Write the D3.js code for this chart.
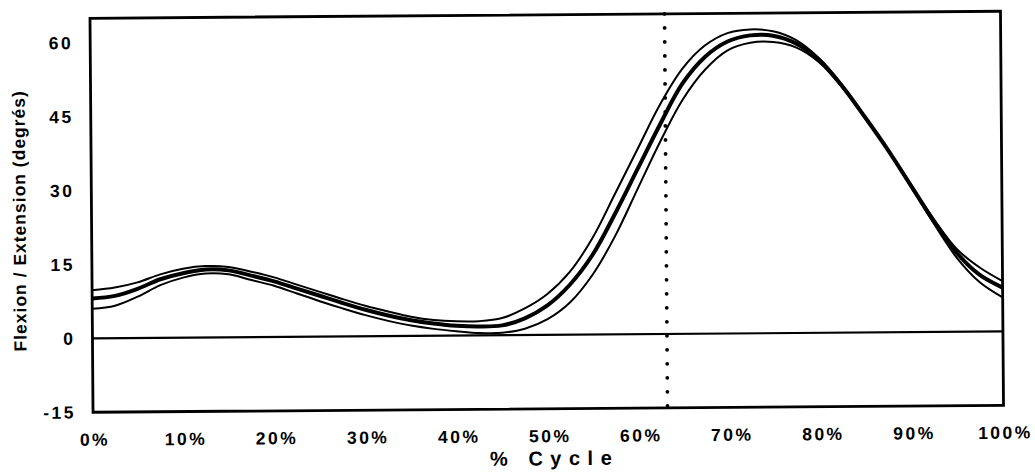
<!DOCTYPE html>
<html><head><meta charset="utf-8">
<script src="https://cdn.jsdelivr.net/npm/d3@7"></script>
<style>body{margin:0;background:#fff} svg{display:block}</style>
</head><body><svg id="c" width="1035" height="475"></svg>
<script>
// ---- data ----
const cyclePct = [0,2.5,5,7.5,10,12.5,15,17.5,20,22.5,25,27.5,30,32.5,35,37.5,40,42.5,45,47.5,50,52.5,55,57.5,60,62.5,65,67.5,70,72.5,75,77.5,80,82.5,85,87.5,90,92.5,95,97.5,100];
const meanFlex  = [8.1,8.6,10.0,11.9,13.1,13.8,13.6,12.5,11.3,9.8,8.3,6.8,5.4,4.2,3.2,2.5,2.0,1.8,2.0,3.4,6.0,10.2,16.2,24.5,33.5,42.5,50.8,56.2,59.3,60.5,60.4,58.8,55.5,50.2,43.8,37.1,29.8,22.5,16.0,11.5,8.9];
const upperFlex = [9.8,10.3,11.3,12.9,14.0,14.5,14.3,13.3,12.1,10.6,9.1,7.6,6.2,5.0,3.9,3.2,2.9,2.9,3.5,5.4,8.3,12.8,19.6,28.5,37.5,46.5,53.8,58.5,61.0,61.7,61.3,59.5,55.8,50.4,43.9,37.2,30.0,22.9,16.8,13.0,10.2];
const lowerFlex = [6.0,6.6,8.4,10.7,12.2,13.0,12.8,11.6,10.4,8.8,7.2,5.7,4.3,3.1,2.1,1.4,0.9,0.5,0.5,1.3,3.2,6.6,12.2,20.0,29.5,39.0,47.5,53.6,57.5,59.0,59.1,58.0,55.0,49.9,43.6,37.0,29.6,22.0,15.0,10.0,6.9];
const yTicks = [-15,0,15,30,45,60];
const xTicks = [0,10,20,30,40,50,60,70,80,90,100];
const toeOffPct = 63.1;
const yDomain = [-15,65];
const yTitle = "Flexion / Extension (degrés)";
const xTitle = "% Cycle";

// ---- layout ----
const W = 1035, H = 475;
const m = {left: 91.5, right: 1002, top: 15, bottom: 409};
const x = d3.scaleLinear().domain([0,100]).range([m.left, m.right]);
const y = d3.scaleLinear().domain(yDomain).range([m.bottom, m.top]);
const font = "'Liberation Sans', Arial, Helvetica, sans-serif";
const ls = 2.5; // letter spacing of tick labels

const svg = d3.select('#c');
svg.append('rect').attr('width', W).attr('height', H).attr('fill', '#fff');
// the scanned original is slightly tilted
const g = svg.append('g').attr('transform', `rotate(-0.44 ${W/2} 212)`);

// axes (labels only)
const ya = g.append('g').attr('transform', `translate(${m.left},0)`)
  .call(d3.axisLeft(y).tickValues(yTicks).tickSize(0).tickPadding(19.5 - ls).tickFormat(d => String(d)));
const xa = g.append('g').attr('transform', `translate(0,${m.bottom})`)
  .call(d3.axisBottom(x).tickValues(xTicks).tickSize(0).tickPadding(21).tickFormat(d => d + '%'));
[ya, xa].forEach(a => {
  a.select('.domain').remove();
  a.selectAll('text').attr('font-family', font).attr('font-weight', 'bold')
    .attr('font-size', 17.5).attr('letter-spacing', ls + 'px').attr('fill', '#000');
});
xa.selectAll('text').attr('dx', ls / 2);

// zero line
g.append('line').attr('x1', x(0)).attr('x2', x(100)).attr('y1', y(0)).attr('y2', y(0))
  .attr('stroke', '#000').attr('stroke-width', 2.2);

// toe-off dotted line
g.append('line').attr('x1', x(toeOffPct)).attr('x2', x(toeOffPct))
  .attr('y1', y(yDomain[1])).attr('y2', y(yDomain[0]))
  .attr('stroke', '#000').attr('stroke-width', 3.8)
  .attr('stroke-dasharray', '0,14').attr('stroke-linecap', 'round');

// curves
const line = d3.line().x((d, i) => x(cyclePct[i])).y(d => y(d)).curve(d3.curveCatmullRom.alpha(0.5));
[[upperFlex, 2], [lowerFlex, 2], [meanFlex, 4]].forEach(([vals, w]) => {
  g.append('path').datum(vals).attr('d', line).attr('fill', 'none')
    .attr('stroke', '#000').attr('stroke-width', w).attr('stroke-linejoin', 'round');
});

// frame
g.append('rect').attr('x', m.left).attr('y', m.top)
  .attr('width', m.right - m.left).attr('height', m.bottom - m.top)
  .attr('fill', 'none').attr('stroke', '#000').attr('stroke-width', 2.8);

// titles
g.append('text').attr('transform', 'translate(25.5,217) rotate(-90)')
  .attr('text-anchor', 'middle').attr('font-family', font).attr('font-weight', 'bold')
  .attr('font-size', 17.5).attr('letter-spacing', '1px').text(yTitle);
const xt = g.append('text').attr('y', 465.5)
  .attr('font-family', font).attr('font-weight', 'bold').attr('font-size', 20)
  .attr('letter-spacing', '7.5px').text(xTitle);
const len = xt.node().getComputedTextLength() - 7.5;
xt.attr('x', 549 - len / 2);
</script></body></html>
